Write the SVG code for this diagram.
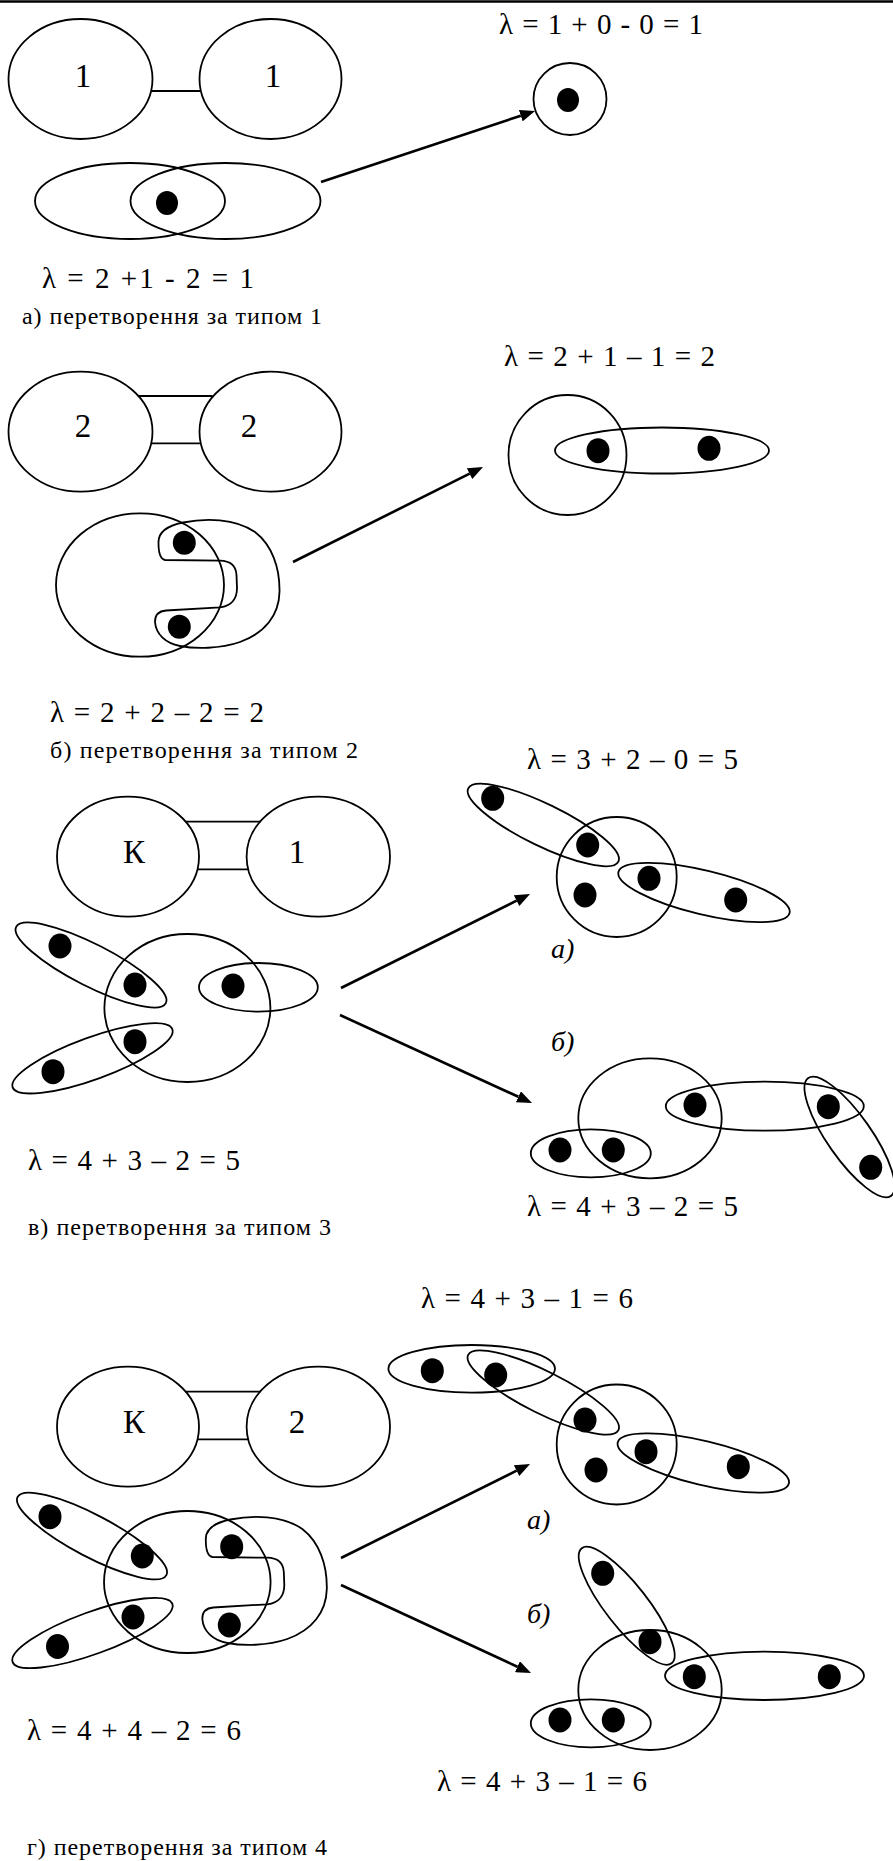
<svg xmlns="http://www.w3.org/2000/svg" width="893" height="1861" viewBox="0 0 893 1861">
<style>
.e{fill:none;stroke:#000;stroke-width:1.8}
.d{fill:#000;stroke:none}
.ln{stroke:#000;stroke-width:1.8;fill:none}
.arr{stroke:#000;stroke-width:2.6;fill:none;marker-end:url(#ah)}
.t{font-family:"Liberation Serif","Times New Roman",serif;fill:#000}
.f{font-size:29px}
.c{font-size:24px}
.l{font-size:33px;text-anchor:middle}
.i{font-size:28px;font-style:italic}
</style>
<defs>
<marker id="ah" markerUnits="userSpaceOnUse" markerWidth="16" markerHeight="12" refX="0" refY="6" orient="auto">
<path d="M0,0 L15,6 L0,12 Z" fill="#000"/>
</marker>
<path id="cshape" d="M158.5,543 C158,533 166,526 183,522.5 C205,518 235,518 255,532 C272,545 280,568 279.5,592 C279,615 265,633 240,642 C220,649 195,649 180,646 C165,643 156,634 155,622 C155,614 159,611 166,610.5 L220,607.3 C232,606 237,598 237,588 L236.5,575 C236,566 230,561 220,560.7 L165,560 C160,559 158.5,553 158.5,543 Z"/>
</defs>
<rect width="893" height="1861" fill="#fff"/>
<line x1="0" y1="1.5" x2="893" y2="1.5" stroke="#000" stroke-width="2.6"/>

<!-- Section a -->
<g id="a-pair">
<ellipse class="e" cx="80.5" cy="79" rx="72" ry="60"/>
<ellipse class="e" cx="270.5" cy="79" rx="71" ry="60"/>
<line class="ln" x1="151" y1="91" x2="200.5" y2="91"/>
<text class="t l" x="83" y="87">1</text>
<text class="t l" x="273" y="87">1</text>
</g>
<g id="a-left">
<ellipse class="e" cx="130" cy="201" rx="95" ry="38"/>
<ellipse class="e" cx="225.5" cy="201" rx="95" ry="38"/>
<ellipse class="d" cx="167" cy="203" rx="11" ry="12"/>
</g>
<g id="a-right">
<ellipse class="e" cx="570" cy="99" rx="36.5" ry="36"/>
<ellipse class="d" cx="568" cy="100" rx="11" ry="12"/>
</g>
<text class="t f" x="499" y="34" textLength="204">λ = 1 + 0 - 0 = 1</text>
<text class="t f" x="42" y="288" textLength="212">λ = 2 +1 - 2 = 1</text>
<text class="t c" x="22" y="324" textLength="300">а) перетворення за типом 1</text>

<!-- Section b -->
<g id="b-pair">
<ellipse class="e" cx="80.5" cy="431.7" rx="72" ry="60"/>
<ellipse class="e" cx="270.5" cy="431.7" rx="71" ry="60"/>
<line class="ln" x1="138.4" y1="396" x2="212.6" y2="396"/>
<line class="ln" x1="151.1" y1="443.3" x2="199.9" y2="443.3"/>
<text class="t l" x="83" y="437">2</text>
<text class="t l" x="249" y="437">2</text>
</g>
<g id="b-left">
<ellipse class="e" cx="140" cy="585" rx="84" ry="71.7"/>
<use href="#cshape" class="e"/>
<ellipse class="d" cx="184.3" cy="542.7" rx="11.5" ry="12"/>
<ellipse class="d" cx="179.3" cy="626.7" rx="11.5" ry="12"/>
</g>
<g id="b-right">
<ellipse class="e" cx="567.5" cy="455" rx="59" ry="60"/>
<ellipse class="e" cx="662" cy="450.5" rx="107" ry="23"/>
<ellipse class="d" cx="598" cy="450.7" rx="11.5" ry="12.5"/>
<ellipse class="d" cx="709" cy="448.3" rx="11.5" ry="12.5"/>
</g>
<text class="t f" x="504" y="366" textLength="211">λ = 2 + 1 – 1 = 2</text>
<text class="t f" x="50" y="722" textLength="214">λ = 2 + 2 – 2 = 2</text>
<text class="t c" x="50" y="758" textLength="308">б) перетворення за типом 2</text>

<!-- Section c -->
<g id="c-pair">
<ellipse class="e" cx="128" cy="856.7" rx="71" ry="60"/>
<ellipse class="e" cx="318.3" cy="856.7" rx="71.7" ry="60"/>
<line class="ln" x1="185.7" y1="821.7" x2="260.6" y2="821.7"/>
<line class="ln" x1="197.4" y1="869.3" x2="248.9" y2="869.3"/>
<text class="t l" x="134" y="863">К</text>
<text class="t l" x="297" y="863">1</text>
</g>
<g id="c-left">
<ellipse class="e" cx="187.4" cy="1008" rx="83" ry="74"/>
<ellipse class="e" cx="91" cy="965" rx="84" ry="21" transform="rotate(27 91 965)"/>
<ellipse class="e" cx="92.5" cy="1058.3" rx="85" ry="21" transform="rotate(-20 92.5 1058.3)"/>
<ellipse class="e" cx="258.4" cy="987.3" rx="59.4" ry="24.3"/>
<ellipse class="d" cx="60" cy="946" rx="11.5" ry="12.5"/>
<ellipse class="d" cx="135" cy="985" rx="11.5" ry="12.5"/>
<ellipse class="d" cx="135" cy="1041.7" rx="11.5" ry="12.5"/>
<ellipse class="d" cx="53" cy="1071.7" rx="11.5" ry="12.5"/>
<ellipse class="d" cx="233" cy="986" rx="11.5" ry="12.5"/>
</g>
<g id="c-right-a">
<ellipse class="e" cx="616.7" cy="877" rx="60" ry="60"/>
<ellipse class="e" cx="543.3" cy="825" rx="83.5" ry="21" transform="rotate(26 543.3 825)"/>
<ellipse class="e" cx="704" cy="892.5" rx="88" ry="22" transform="rotate(13.5 704 892.5)"/>
<ellipse class="d" cx="492.7" cy="798.3" rx="11.5" ry="12.5"/>
<ellipse class="d" cx="587.7" cy="845" rx="11.5" ry="12.5"/>
<ellipse class="d" cx="649" cy="878.3" rx="11.5" ry="12.5"/>
<ellipse class="d" cx="735.7" cy="900" rx="11.5" ry="12.5"/>
<ellipse class="d" cx="585" cy="895" rx="11.5" ry="12.5"/>
<text class="t i" x="551" y="958">а)</text>
</g>
<g id="c-right-b">
<ellipse class="e" cx="650" cy="1118.3" rx="71.7" ry="60"/>
<ellipse class="e" cx="590.8" cy="1153.3" rx="60" ry="24"/>
<ellipse class="e" cx="764.8" cy="1106.2" rx="99" ry="24.5"/>
<ellipse class="e" cx="849.6" cy="1137" rx="72" ry="22" transform="rotate(55 849.6 1137)"/>
<ellipse class="d" cx="560" cy="1150" rx="11.5" ry="12.5"/>
<ellipse class="d" cx="613.3" cy="1150" rx="11.5" ry="12.5"/>
<ellipse class="d" cx="695" cy="1105" rx="11.5" ry="12.5"/>
<ellipse class="d" cx="828.3" cy="1106.7" rx="11.5" ry="12.5"/>
<ellipse class="d" cx="870.7" cy="1167.3" rx="11.5" ry="12.5"/>
<text class="t i" x="551" y="1051">б)</text>
</g>
<text class="t f" x="527" y="769" textLength="211">λ = 3 + 2 – 0 = 5</text>
<text class="t f" x="28" y="1170" textLength="212">λ = 4 + 3 – 2 = 5</text>
<text class="t f" x="527" y="1216" textLength="211">λ = 4 + 3 – 2 = 5</text>
<text class="t c" x="28" y="1235" textLength="303">в) перетворення за типом 3</text>

<!-- Section d -->
<g id="d-pair">
<ellipse class="e" cx="128" cy="1426.7" rx="71" ry="60"/>
<ellipse class="e" cx="318.3" cy="1426.7" rx="71.7" ry="60"/>
<line class="ln" x1="185.7" y1="1391.7" x2="260.6" y2="1391.7"/>
<line class="ln" x1="197.4" y1="1439.3" x2="248.9" y2="1439.3"/>
<text class="t l" x="134" y="1433">К</text>
<text class="t l" x="297" y="1433">2</text>
</g>
<g id="d-left">
<ellipse class="e" cx="187.3" cy="1582" rx="83.3" ry="71"/>
<ellipse class="e" cx="92" cy="1536" rx="84" ry="21" transform="rotate(27.7 92 1536)"/>
<ellipse class="e" cx="92.5" cy="1633" rx="85" ry="21" transform="rotate(-20 92.5 1633)"/>
<use href="#cshape" class="e" transform="translate(47.3 997)"/>
<ellipse class="d" cx="50" cy="1516.7" rx="11.5" ry="12.5"/>
<ellipse class="d" cx="142.3" cy="1556" rx="11.5" ry="12.5"/>
<ellipse class="d" cx="133" cy="1617" rx="11.5" ry="12.5"/>
<ellipse class="d" cx="57.5" cy="1646.5" rx="11.5" ry="12.5"/>
<ellipse class="d" cx="231.7" cy="1546.7" rx="11.5" ry="12.5"/>
<ellipse class="d" cx="229.3" cy="1625" rx="11.5" ry="12.5"/>
</g>
<g id="d-right-a">
<ellipse class="e" cx="471.7" cy="1368.8" rx="83.3" ry="23.8"/>
<ellipse class="e" cx="543.3" cy="1392.5" rx="84" ry="21" transform="rotate(26.6 543.3 1392.5)"/>
<ellipse class="e" cx="616.7" cy="1444.5" rx="60" ry="60"/>
<ellipse class="e" cx="703.3" cy="1463" rx="88" ry="22" transform="rotate(13.5 703.3 1463)"/>
<ellipse class="d" cx="432.3" cy="1370.7" rx="11.5" ry="12.5"/>
<ellipse class="d" cx="495.7" cy="1375" rx="11.5" ry="12.5"/>
<ellipse class="d" cx="585" cy="1420" rx="11.5" ry="12.5"/>
<ellipse class="d" cx="646" cy="1451.7" rx="11.5" ry="12.5"/>
<ellipse class="d" cx="738.3" cy="1466.7" rx="11.5" ry="12.5"/>
<ellipse class="d" cx="596" cy="1470" rx="11.5" ry="12.5"/>
<text class="t i" x="527" y="1529">а)</text>
</g>
<g id="d-right-b">
<ellipse class="e" cx="626.7" cy="1605.8" rx="73" ry="21" transform="rotate(52 626.7 1605.8)"/>
<ellipse class="e" cx="650" cy="1690" rx="71.7" ry="60"/>
<ellipse class="e" cx="764.5" cy="1675.8" rx="99.5" ry="24.2"/>
<ellipse class="e" cx="590.8" cy="1723.3" rx="60" ry="24"/>
<ellipse class="d" cx="602.7" cy="1573.3" rx="11.5" ry="12.5"/>
<ellipse class="d" cx="650" cy="1641.7" rx="11.5" ry="12.5"/>
<ellipse class="d" cx="694.3" cy="1676.7" rx="11.5" ry="12.5"/>
<ellipse class="d" cx="829.3" cy="1676.7" rx="11.5" ry="12.5"/>
<ellipse class="d" cx="560" cy="1720" rx="11.5" ry="12.5"/>
<ellipse class="d" cx="613.3" cy="1720" rx="11.5" ry="12.5"/>
<text class="t i" x="527" y="1623">б)</text>
</g>
<text class="t f" x="421" y="1308" textLength="212">λ = 4 + 3 – 1 = 6</text>
<text class="t f" x="27" y="1740" textLength="214">λ = 4 + 4 – 2 = 6</text>
<text class="t f" x="437" y="1791" textLength="210">λ = 4 + 3 – 1 = 6</text>
<text class="t c" x="27" y="1855" textLength="300">г) перетворення за типом 4</text>

<g id="connectors">
<line class="arr" x1="321" y1="182" x2="520.8" y2="115.7"/>
<line class="arr" x1="293" y1="562" x2="469.6" y2="473.7"/>
<line class="arr" x1="341" y1="988" x2="516.6" y2="900.7"/>
<line class="arr" x1="340" y1="1015" x2="518.4" y2="1096.8"/>
<line class="arr" x1="341" y1="1558" x2="516.6" y2="1470.7"/>
<line class="arr" x1="341" y1="1585" x2="517.4" y2="1666.7"/>
</g>
</svg>
